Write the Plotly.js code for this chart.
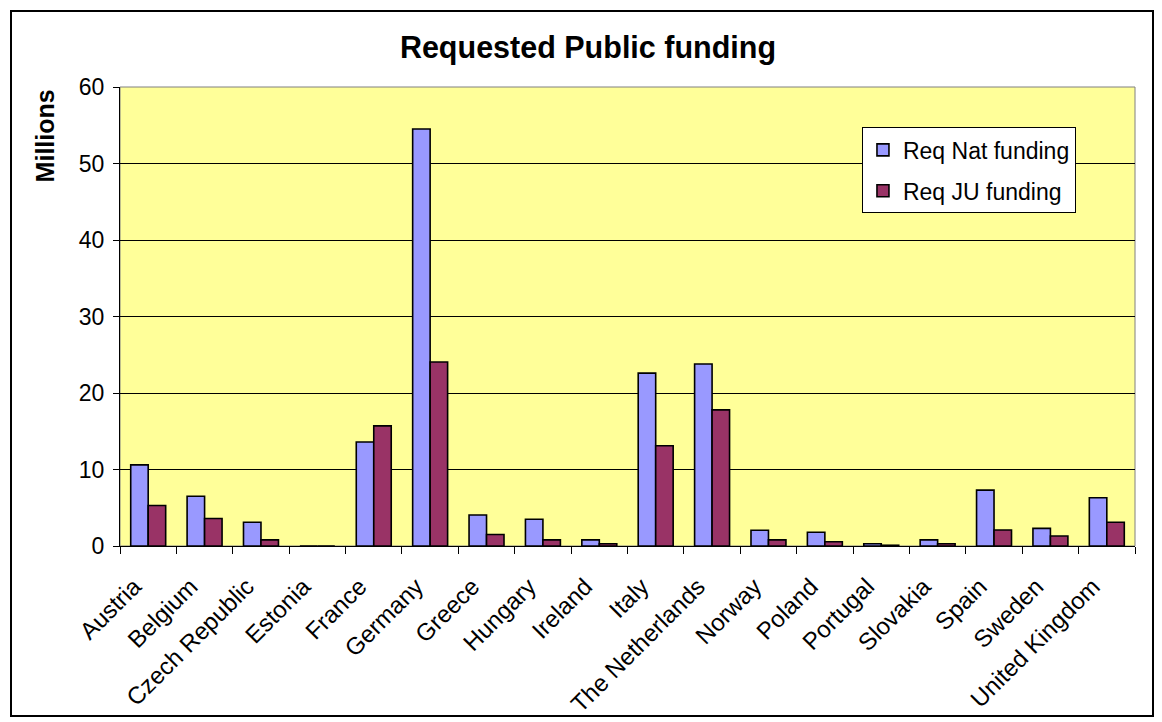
<!DOCTYPE html>
<html>
<head>
<meta charset="utf-8">
<script src="https://cdn.plot.ly/plotly-3.0.1.min.js"></script>
<style>
  html, body { margin: 0; padding: 0; background: #fff; }
  #wrap { position: relative; width: 1162px; height: 722px; }
  #chart { position: absolute; left: 0; top: 0; width: 1162px; height: 722px; }
  #frame { position: absolute; left: 10px; top: 10px; width: 1140px; height: 703px; border: 2px solid #000; pointer-events: none; }
</style>
</head>
<body>
<div id="wrap">
  <div id="chart"></div>
  <div id="frame"></div>
</div>
<script>
const countries = ["Austria", "Belgium", "Czech Republic", "Estonia", "France", "Germany", "Greece", "Hungary", "Ireland", "Italy", "The Netherlands", "Norway", "Poland", "Portugal", "Slovakia", "Spain", "Sweden", "United Kingdom"];
const reqNatFunding = [10.6, 6.5, 3.1, 0, 13.6, 54.5, 4.05, 3.5, 0.8, 22.6, 23.8, 2.05, 1.8, 0.3, 0.8, 7.3, 2.3, 6.3];
const reqJUFunding = [5.3, 3.6, 0.8, 0, 15.7, 24.05, 1.5, 0.8, 0.3, 13.1, 17.8, 0.8, 0.55, 0.1, 0.3, 2.1, 1.3, 3.1];
const yTicks = [0, 10, 20, 30, 40, 50, 60];
const yAxisTitle = "Millions";
const chartTitle = "Requested Public funding";

const font = "Liberation Sans, Arial, sans-serif";

const traces = [
  {
    type: "bar", name: "Req Nat funding", x: countries, y: reqNatFunding, legendgroup: "nat",
    marker: { color: "#9999FF", line: { color: "#000", width: 1.6 } }
  },
  {
    type: "bar", name: "Req JU funding", x: countries, y: reqJUFunding, legendgroup: "ju",
    marker: { color: "#993366", line: { color: "#000", width: 1.6 } }
  }
];

const layout = {
  width: 1162, height: 722,
  margin: { l: 120, r: 27, t: 87, b: 176 },
  paper_bgcolor: "#fff",
  plot_bgcolor: "#FFFF99",
  barmode: "group",
  bargap: 0.38,
  bargroupgap: 0,
  font: { family: font, size: 23, color: "#000" },
  title: {
    text: "<b>" + chartTitle + "</b>",
    font: { family: font, size: 30.5, color: "#000" },
    x: 0.506, xref: "container", xanchor: "center",
    y: 0.935, yref: "container", yanchor: "middle"
  },
  xaxis: {
    type: "category",
    tickangle: -45,
    tickson: "boundaries",
    ticks: "outside", ticklen: 7, tickcolor: "#000", tickwidth: 1,
    ticklabelshift: -14,
    ticklabelstandoff: 16,
    showline: true, linecolor: "#000", linewidth: 1,
    showgrid: false,
    automargin: false,
    tickfont: { family: font, size: 24, color: "#000" }
  },
  yaxis: {
    range: [0, 60],
    tickvals: yTicks,
    ticks: "outside", ticklen: 6, tickcolor: "#000",
    ticklabelstandoff: 4,
    showline: true, linecolor: "#000", linewidth: 1,
    showgrid: true, gridcolor: "#000", gridwidth: 1,
    zeroline: false,
    automargin: false,
    tickfont: { family: font, size: 23, color: "#000" }
  },
  legend: {
    x: 0.731, y: 0.912, xanchor: "left", yanchor: "top",
    bgcolor: "#fff", bordercolor: "#000", borderwidth: 1,
    font: { family: font, size: 23, color: "#000" },
    tracegroupgap: 8, itemwidth: 30
  },
  annotations: [
    { text: "<b>" + yAxisTitle + "</b>", xref: "paper", yref: "paper",
      x: -0.074, y: 1.0, xanchor: "center", yanchor: "top",
      textangle: -90, showarrow: false,
      font: { family: font, size: 25, color: "#000" } }
  ],
  shapes: [
    { type: "rect", xref: "paper", yref: "paper", x0: 0, x1: 1, y0: 0, y1: 1,
      line: { color: "#808080", width: 1 }, layer: "below" }
  ],
  showlegend: true
};

Plotly.newPlot("chart", traces, layout, { displayModeBar: false, staticPlot: true });
</script>
</body>
</html>
